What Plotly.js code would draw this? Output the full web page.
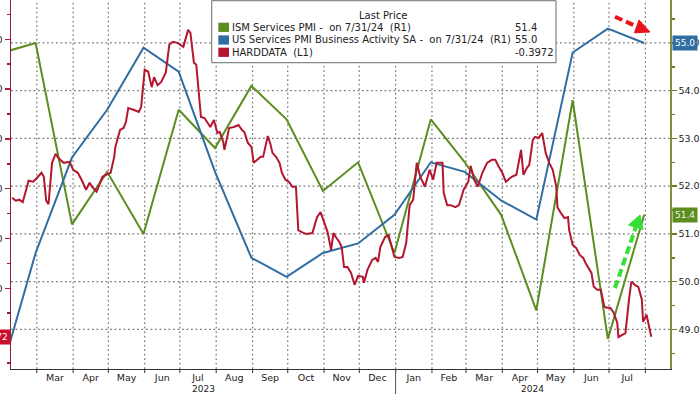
<!DOCTYPE html>
<html>
<head>
<meta charset="utf-8">
<script src="https://cdn.plot.ly/plotly-3.0.1.min.js"></script>
<style>
  html, body { margin: 0; padding: 0; background: #fff; }
  #chart { width: 700px; height: 394px; }
</style>
</head>
<body>
<div id="chart"></div>
<script>
// ---------------- DATA ----------------
const pmiDates = ['2023-01-31','2023-02-28','2023-03-31','2023-04-30','2023-05-31','2023-06-30',
  '2023-07-31','2023-08-31','2023-09-30','2023-10-31','2023-11-30','2023-12-31',
  '2024-01-31','2024-02-29','2024-03-31','2024-04-30','2024-05-31','2024-06-30','2024-07-31'];
const ismServices = [54.8, 55.0, 51.2, 52.3, 51.0, 53.6, 52.8, 54.1, 53.4, 51.9, 52.5, 50.6,
  53.4, 52.5, 51.4, 49.4, 53.8, 48.8, 51.4];
const usServicesPmi = [48.2, 50.6, 52.6, 53.6, 54.9, 54.4, 52.3, 50.5, 50.1, 50.6, 50.8, 51.4,
  52.5, 52.3, 51.7, 51.3, 54.8, 55.3, 55.0];

const hardDates = [
 '2023-02-08','2023-02-11','2023-02-14','2023-02-17','2023-02-22','2023-02-26',
 '2023-03-02','2023-03-05','2023-03-07','2023-03-09','2023-03-11','2023-03-14','2023-03-17','2023-03-20','2023-03-24','2023-03-29',
 '2023-04-01','2023-04-05','2023-04-09','2023-04-12','2023-04-15','2023-04-17','2023-04-21','2023-04-24','2023-04-26','2023-04-29',
 '2023-05-03','2023-05-06','2023-05-07','2023-05-11','2023-05-14','2023-05-16','2023-05-18','2023-05-23','2023-05-27','2023-05-29',
 '2023-06-01','2023-06-04','2023-06-07','2023-06-09','2023-06-12','2023-06-15','2023-06-19','2023-06-22','2023-06-25','2023-06-29',
 '2023-07-04','2023-07-08','2023-07-10','2023-07-13','2023-07-15','2023-07-19','2023-07-22','2023-07-27','2023-07-30',
 '2023-08-02','2023-08-04','2023-08-07','2023-08-08','2023-08-12','2023-08-16','2023-08-20','2023-08-23','2023-08-25','2023-08-28','2023-08-31',
 '2023-09-02','2023-09-05','2023-09-08','2023-09-10','2023-09-14','2023-09-16','2023-09-18','2023-09-21','2023-09-24','2023-09-26','2023-09-29',
 '2023-10-02','2023-10-05','2023-10-08','2023-10-10','2023-10-13','2023-10-17','2023-10-22','2023-10-26','2023-10-29',
 '2023-11-01','2023-11-04','2023-11-07','2023-11-09','2023-11-11','2023-11-14','2023-11-16','2023-11-18','2023-11-21','2023-11-24','2023-11-27','2023-11-30',
 '2023-12-04','2023-12-05','2023-12-08','2023-12-12','2023-12-15','2023-12-17','2023-12-19','2023-12-23','2023-12-26','2023-12-29','2023-12-31',
 '2024-01-04','2024-01-07','2024-01-10','2024-01-13','2024-01-16','2024-01-19','2024-01-22','2024-01-26','2024-01-30',
 '2024-02-02','2024-02-05','2024-02-10','2024-02-11','2024-02-14','2024-02-17','2024-02-21','2024-02-24','2024-02-28',
 '2024-03-03','2024-03-05','2024-03-08','2024-03-11','2024-03-15','2024-03-19','2024-03-23','2024-03-26','2024-03-29',
 '2024-04-01','2024-04-04','2024-04-06','2024-04-09','2024-04-13','2024-04-17','2024-04-19','2024-04-22','2024-04-24','2024-04-27','2024-04-29',
 '2024-05-02','2024-05-05','2024-05-08','2024-05-11','2024-05-14','2024-05-17','2024-05-18','2024-05-21','2024-05-24','2024-05-27','2024-05-28','2024-05-31',
 '2024-06-03','2024-06-06','2024-06-09','2024-06-11','2024-06-16','2024-06-18','2024-06-21','2024-06-24','2024-06-27','2024-06-29',
 '2024-07-02','2024-07-05','2024-07-08','2024-07-09','2024-07-12','2024-07-15','2024-07-18','2024-07-20','2024-07-23','2024-07-26','2024-07-29','2024-07-30',
 '2024-08-02','2024-08-04','2024-08-06'];
const hardData = [
 -0.118,-0.124,-0.122,-0.127,-0.084,-0.086,
 -0.076,-0.068,-0.076,-0.124,-0.131,-0.048,-0.030,-0.040,-0.048,-0.046,
 -0.062,-0.068,-0.086,-0.102,-0.088,-0.096,-0.106,-0.086,-0.076,-0.072,
 -0.068,-0.036,-0.016,0.018,0.022,0.034,0.062,0.058,0.054,0.064,
 0.139,0.135,0.104,0.124,0.108,0.114,0.133,0.189,0.195,0.193,
 0.185,0.219,0.213,0.153,0.149,0.044,0.042,0.024,0.038,
 0.012,0.014,-0.006,-0.022,0.022,0.024,0.028,0.018,0.014,-0.008,-0.016,
 -0.048,-0.042,-0.036,-0.036,0.006,-0.008,-0.028,-0.036,-0.048,-0.068,-0.082,
 -0.086,-0.096,-0.096,-0.183,-0.187,-0.191,-0.189,-0.157,-0.147,
 -0.169,-0.187,-0.223,-0.189,-0.197,-0.207,-0.217,-0.257,-0.257,-0.269,-0.293,-0.275,
 -0.277,-0.289,-0.263,-0.243,-0.239,-0.247,-0.217,-0.197,-0.193,-0.219,-0.237,
 -0.239,-0.237,-0.209,-0.133,-0.122,-0.048,-0.076,-0.096,-0.062,
 -0.082,-0.048,-0.048,-0.108,-0.133,-0.133,-0.137,-0.133,-0.102,
 -0.086,-0.054,-0.082,-0.096,-0.068,-0.048,-0.042,-0.042,-0.056,
 -0.068,-0.086,-0.082,-0.076,-0.072,-0.022,-0.072,-0.058,-0.052,-0.002,0.004,
 0.002,0.012,-0.028,-0.048,-0.062,-0.096,-0.137,-0.149,-0.159,-0.157,-0.183,-0.213,
 -0.219,-0.233,-0.239,-0.249,-0.269,-0.297,-0.303,-0.303,-0.337,-0.339,
 -0.339,-0.349,-0.369,-0.398,-0.394,-0.390,-0.323,-0.287,-0.293,-0.297,-0.323,-0.367,
 -0.353,-0.378,-0.3972];

const seriesNames = ['ISM Services PMI -\u00a0\u00a0on 7/31/24\u00a0\u00a0(R1)',
  'US Services PMI Business Activity SA -\u00a0\u00a0on 7/31/24\u00a0\u00a0(R1)',
  'HARDDATA\u00a0\u00a0(L1)'];
const monthLabels = ['Mar','Apr','May','Jun','Jul','Aug','Sep','Oct','Nov','Dec','Jan','Feb','Mar','Apr','May','Jun','Jul'];
const firstLabelYear = 2023, firstLabelMonth = 2; // March 2023 (0-based month)
const yearLabels = ['2023','2024'];
const rightTicks = [49, 50, 51, 52, 53, 54, 55];
const xRange = ['2023-02-07','2024-08-22'];

// ---------------- STYLE ----------------
const GREEN = '#5b8d20', BLUE = '#2f6da3', RED = '#b3172f';
const FONT = 'DejaVu Sans';
const GRID = '#7a7a7a';
const GDASH = '1.8px,2.7px';

function iso(ms){ return new Date(ms).toISOString().slice(0,19).replace('T',' '); }

const tickvals = monthLabels.map((_, i) => {
  const s = Date.UTC(firstLabelYear, firstLabelMonth + i, 1);
  const e = Date.UTC(firstLabelYear, firstLabelMonth + i + 1, 1);
  return iso((s + e) / 2);
});
const gridvals = monthLabels.map((_, i) => iso(Date.UTC(firstLabelYear, firstLabelMonth + i, 1)))
  .concat([iso(Date.UTC(firstLabelYear, firstLabelMonth + monthLabels.length, 1))]);
const r0 = Date.parse(xRange[0]), r1 = Date.parse(xRange[1]);
const yearAnn = yearLabels.map(y => {
  const s = Math.max(r0, Date.UTC(+y, 0, 1)), e = Math.min(r1, Date.UTC(+y + 1, 0, 1));
  return {x: iso((s + e) / 2), y: 0, xref: 'x', yref: 'paper', yanchor: 'middle', yshift: -20,
    text: y, showarrow: false, font: {family: FONT, size: 9, color: '#222'}};
});

const traces = [
  {x: pmiDates, y: ismServices, name: seriesNames[0], type: 'scatter', mode: 'lines',
   line: {color: GREEN, width: 2}, yaxis: 'y'},
  {x: pmiDates, y: usServicesPmi, name: seriesNames[1], type: 'scatter', mode: 'lines',
   line: {color: BLUE, width: 2}, yaxis: 'y'},
  {x: hardDates, y: hardData, name: seriesNames[2], type: 'scatter', mode: 'lines',
   line: {color: RED, width: 2}, yaxis: 'y2'}
];

const last = a => a[a.length - 1];

const LX0 = 0.3046, LX1 = 0.827, LY0 = 0.830, LY1 = 0.998;
const rowY = [0.926, 0.8916, 0.8583];
const colors = [GREEN, BLUE, RED];
const values = [last(ismServices).toFixed(1), last(usServicesPmi).toFixed(1), last(hardData).toFixed(4)];

// dotted gridlines, positioned through the axes, below the traces
const shapes = [];
gridvals.forEach(d => shapes.push({type: 'line', xref: 'x', yref: 'paper', x0: d, x1: d, y0: 0, y1: 1,
  line: {color: GRID, width: 1.2, dash: GDASH}, layer: 'below'}));
gridvals.forEach(d => shapes.push({type: 'line', xref: 'x', yref: 'paper', x0: d, x1: d, y0: 0, y1: -0.011,
  line: {color: '#333', width: 1}, layer: 'above'}));
rightTicks.forEach(v => shapes.push({type: 'line', xref: 'paper', yref: 'y', x0: 0, x1: 1, y0: v, y1: v,
  line: {color: GRID, width: 1.2, dash: GDASH}, layer: 'below'}));

shapes.push(
  {type: 'rect', xref: 'paper', yref: 'paper', x0: LX0, x1: LX1, y0: LY0, y1: LY1,
   fillcolor: '#fff', line: {color: '#6a6a6a', width: 1}, layer: 'above'},
  {type: 'line', xref: 'x', yref: 'paper', x0: '2024-01-01', x1: '2024-01-01', y0: 0, y1: -0.07,
   line: {color: '#555', width: 1}},
  {type: 'line', xref: 'paper', yref: 'paper', x0: 0.9165, y0: 0.9547, x1: 0.9475, y1: 0.9300,
   line: {color: '#e8141c', width: 4, dash: '8px,4px'}, layer: 'above'},
  {type: 'path', xref: 'paper', yref: 'paper', path: 'M 0.9697 0.9133 L 0.9460 0.9111 L 0.9530 0.9458 Z',
   fillcolor: '#e8141c', line: {color: '#e8141c', width: 1}, layer: 'above'},
  {type: 'line', xref: 'paper', yref: 'paper', x0: 0.9165, y0: 0.2195, x1: 0.9481, y1: 0.384,
   line: {color: '#35e035', width: 4, dash: '8px,4px'}, layer: 'above'},
  {type: 'path', xref: 'paper', yref: 'paper', path: 'M 0.9545 0.4173 L 0.9591 0.3778 L 0.9371 0.3902 Z',
   fillcolor: '#35e035', line: {color: '#35e035', width: 1}, layer: 'above'}
);
colors.forEach((c, i) => {
  shapes.push({type: 'rect', xref: 'paper', yref: 'paper', x0: 0.3146, x1: 0.3308,
    y0: rowY[i] - 0.0125, y1: rowY[i] + 0.0125, fillcolor: c, line: {width: 0}, layer: 'above'});
});

const annotations = [
  {x: 0.5645, y: 0.9593, xref: 'paper', yref: 'paper', text: 'Last Price', showarrow: false,
   xanchor: 'center', yanchor: 'middle', font: {family: FONT, size: 10, color: '#222'}}
];
seriesNames.forEach((n, i) => {
  annotations.push({x: 0.3334, y: rowY[i], xref: 'paper', yref: 'paper', text: n, showarrow: false,
    xanchor: 'left', yanchor: 'middle', borderpad: 0, font: {family: FONT, size: 10, color: '#222'}});
  annotations.push({x: 0.7633, y: rowY[i], xref: 'paper', yref: 'paper', text: values[i], showarrow: false,
    xanchor: 'left', yanchor: 'middle', borderpad: 0, font: {family: FONT, size: 10, color: '#222'}});
});
annotations.push({x: 1, y: last(usServicesPmi), xref: 'paper', yref: 'y', text: values[1], showarrow: false,
  xanchor: 'left', yanchor: 'middle', xshift: 2, bgcolor: BLUE, borderpad: 2,
  font: {family: FONT, size: 9, color: '#fff'}});
annotations.push({x: 1, y: last(ismServices), xref: 'paper', yref: 'y', text: values[0], showarrow: false,
  xanchor: 'left', yanchor: 'middle', xshift: 2, bgcolor: GREEN, borderpad: 2,
  font: {family: FONT, size: 9, color: '#eef6e0'}});
annotations.push({x: 0, y: last(hardData), xref: 'paper', yref: 'y2', text: values[2], showarrow: false,
  xanchor: 'right', yanchor: 'middle', xshift: 0, bgcolor: '#c8102e', borderpad: 2,
  font: {family: FONT, size: 9, color: '#fff'}});
yearAnn.forEach(a => annotations.push(a));

const layout = {
  width: 700, height: 394,
  margin: {l: 11, r: 30, t: 0, b: 25, autoexpand: false},
  paper_bgcolor: '#fff', plot_bgcolor: 'rgba(0,0,0,0)',
  showlegend: false,
  font: {family: FONT, size: 9, color: '#222'},
  xaxis: {
    type: 'date', range: xRange, automargin: false,
    tickmode: 'array', tickvals: tickvals, ticktext: monthLabels,
    ticks: '', showgrid: false, zeroline: false,
    showline: true, linecolor: '#333', linewidth: 1,
    tickfont: {family: FONT, size: 9.5, color: '#222'}
  },
  yaxis: {
    side: 'right', range: [48.17, 55.9], tickmode: 'array', tickvals: rightTicks, tickformat: '.1f',
    automargin: false,
    ticks: 'outside', ticklen: 5, tickwidth: 1.5, tickcolor: '#6f7a1f',
    showline: true, linecolor: '#8b8b3c', linewidth: 1.5,
    showgrid: false, zeroline: false,
    tickfont: {family: FONT, size: 9.5, color: '#222'},
    minor: {dtick: 0.5, ticks: 'outside', ticklen: 3, tickcolor: '#6f7a1f', showgrid: false}
  },
  yaxis2: {
    overlaying: 'y', side: 'left', range: [-0.462, 0.279], tick0: 0, dtick: 0.1, tickformat: '.2f',
    automargin: false,
    ticks: 'outside', ticklen: 5, tickwidth: 1.5, tickcolor: '#b01c35',
    showline: true, linecolor: '#8b2035', linewidth: 1.5,
    showgrid: false, zeroline: false,
    tickfont: {family: FONT, size: 9.5, color: '#222'},
    minor: {dtick: 0.05, ticks: 'outside', ticklen: 3, tickcolor: '#8b2035', showgrid: false}
  },
  shapes: shapes,
  annotations: annotations
};

Plotly.newPlot('chart', traces, layout, {staticPlot: true, displayModeBar: false});
</script>
</body>
</html>
